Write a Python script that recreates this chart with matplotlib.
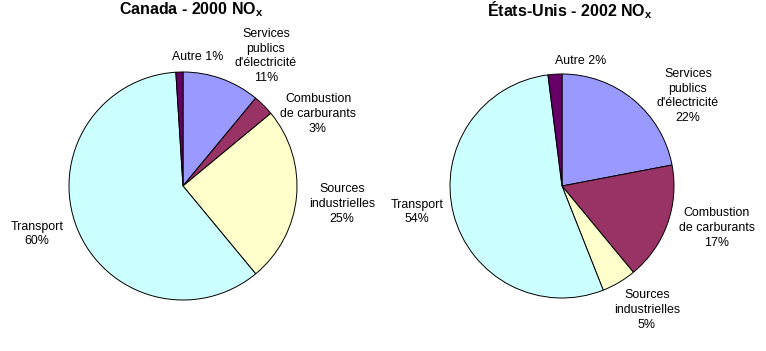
import matplotlib
matplotlib.use("Agg")
import matplotlib.pyplot as plt

plt.rcParams["font.family"] = ["Liberation Sans", "DejaVu Sans"]
plt.rcParams["mathtext.fontset"] = "custom"
plt.rcParams["mathtext.bf"] = "Liberation Sans:bold"
plt.rcParams["mathtext.rm"] = "Liberation Sans"

# donnees (ordre horaire depuis midi)
categories = ["Services\npublics\nd'électricité", "Combustion\nde carburants",
              "Sources\nindustrielles", "Transport", "Autre"]
canada_2000 = [11, 3, 25, 60, 1]
usa_2002 = [22, 17, 5, 54, 2]
colors = ["#9999FF", "#993366", "#FFFFCC", "#CCFFFF", "#660066"]

W, H = 766, 351

# positions des etiquettes (pixels, centre du texte)
canada_label_pos = [(266, 56), (318, 114), (342, 204), (37, 234), (198, 57)]
usa_label_pos = [(688, 96), (717, 228), (647, 310), (417, 212), (581, 61)]

panels = [
    ("Canada - 2000 NO$_\\mathbf{x}$", canada_2000, (183, 186), 114, (191, 10), canada_label_pos),
    ("États-Unis - 2002 NO$_\\mathbf{x}$", usa_2002, (562, 186), 112, (570, 10), usa_label_pos),
]


def label_text(cat, val):
    if cat == "Autre":
        return f"{cat} {val}%"
    return f"{cat}\n{val}%"


fig = plt.figure(figsize=(W / 100, H / 100), dpi=100)
ax = fig.add_axes([0, 0, 1, 1])

for title, values, (cx, cy), r, (tx, ty), lpos in panels:
    ax.pie(values, colors=colors, startangle=90, counterclock=False,
           center=(cx, H - cy), radius=r, frame=True,
           wedgeprops=dict(edgecolor="black", linewidth=0.7))
    ax.text(tx, H - ty, title, ha="center", va="center",
            fontsize=11.5, fontweight="bold")
    for cat, val, (lx, ly) in zip(categories, values, lpos):
        ax.text(lx, H - ly, label_text(cat, val), ha="center", va="center",
                fontsize=8.9, linespacing=1.3)

ax.set_xlim(0, W)
ax.set_ylim(0, H)
ax.set_aspect("equal")
ax.axis("off")
fig.savefig("out.png", dpi=100)
plt.close(fig)
